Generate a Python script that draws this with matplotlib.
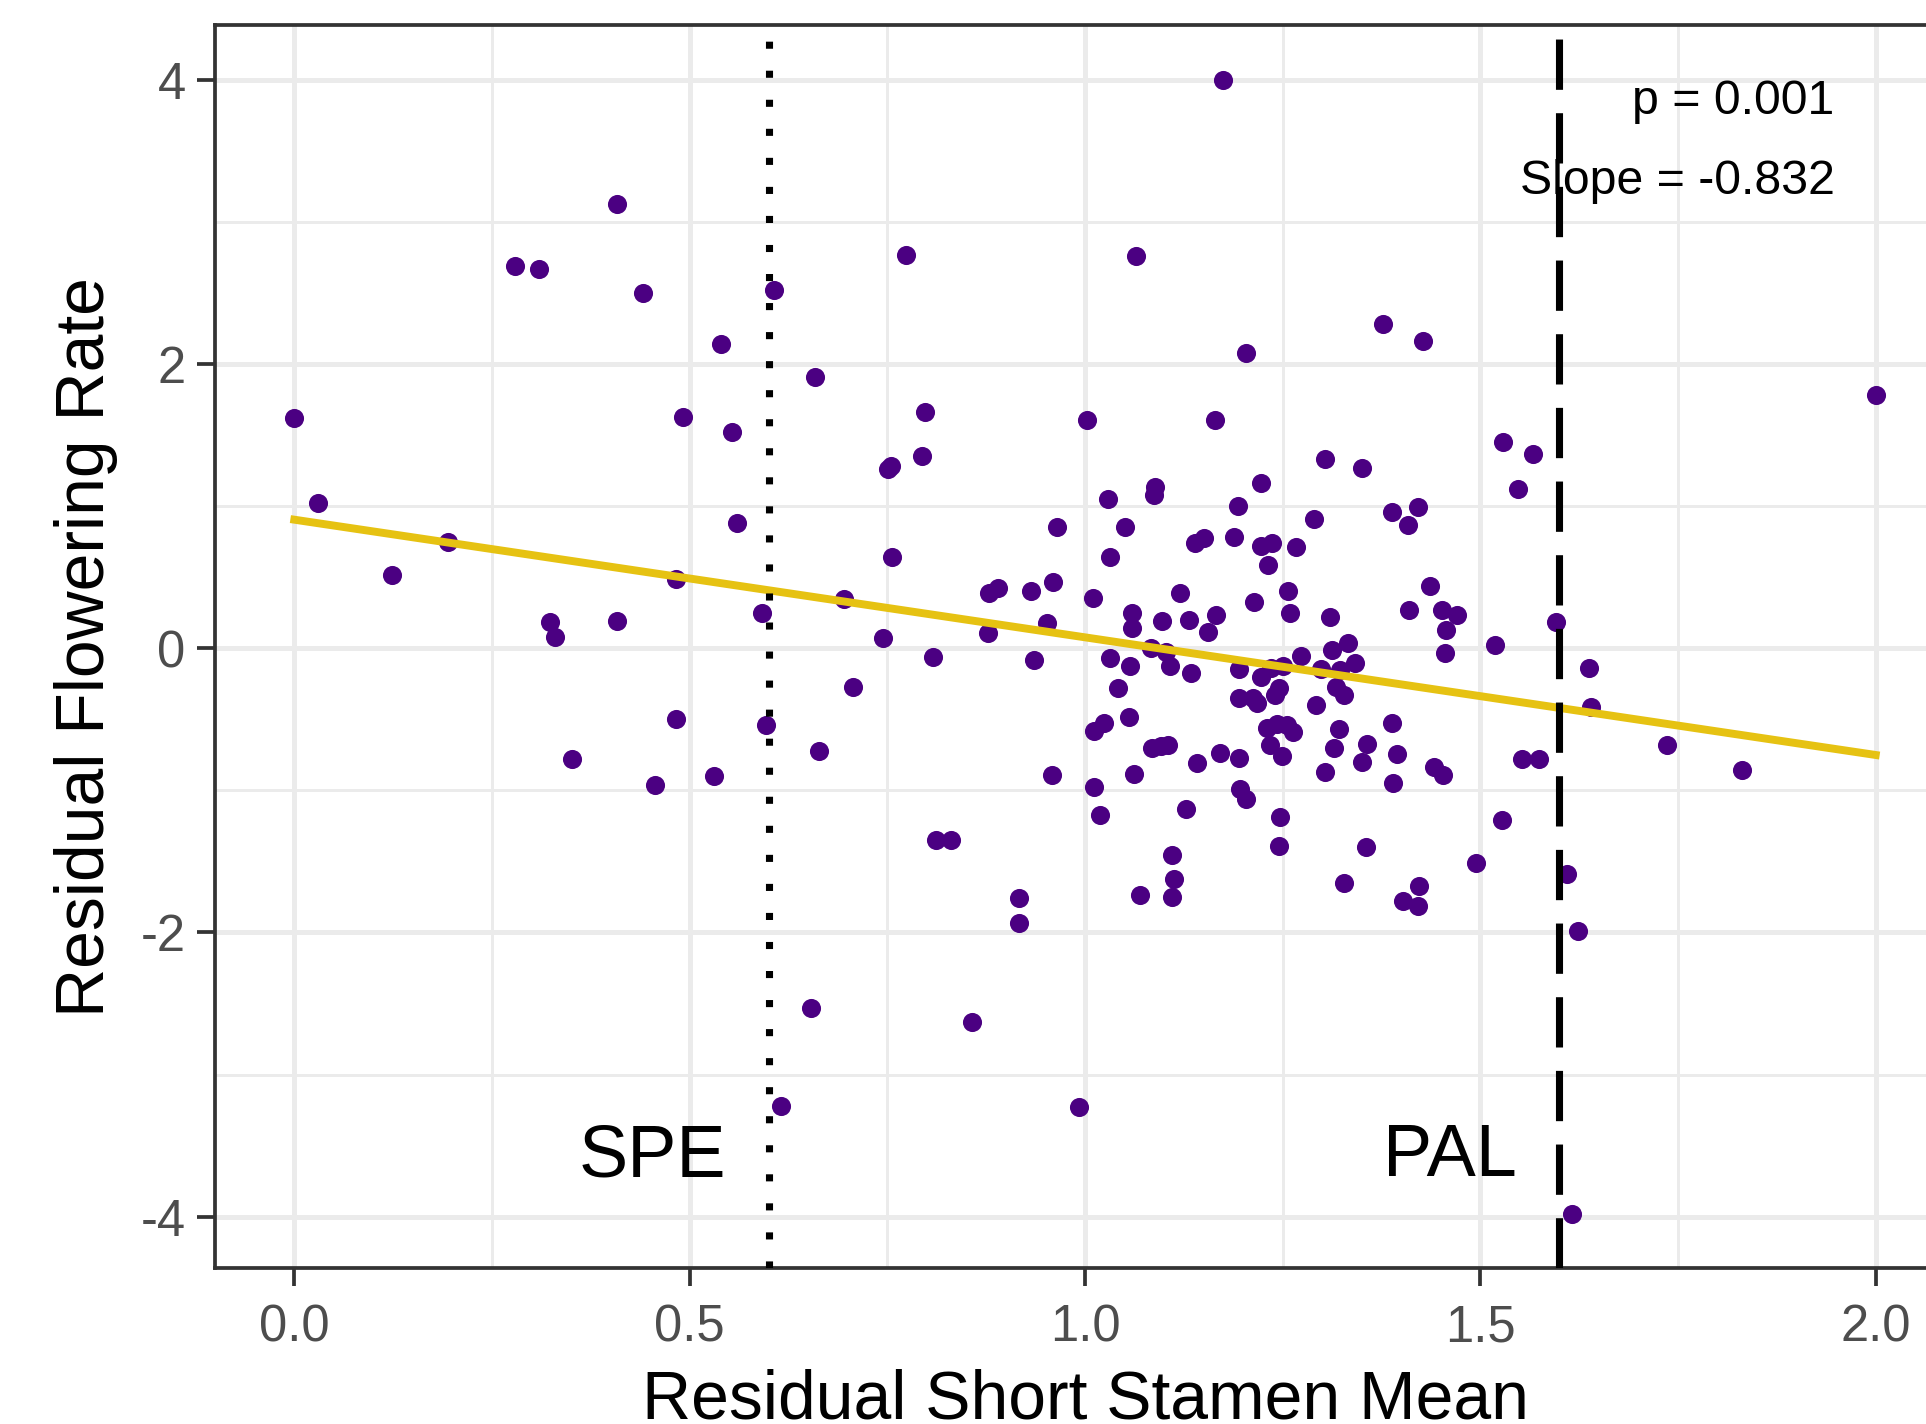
"""
Residual flowering rate vs residual short stamen mean, with SPE / PAL markers.
"""

import numpy as np
import matplotlib.pyplot as plt
from matplotlib.ticker import MultipleLocator

plt.rcParams['font.family'] = ['Liberation Sans', 'DejaVu Sans']

# residual short stamen mean (x) and residual flowering rate (y)
stamen_resid = [
    0.000, 0.030, 0.123, 0.194, 0.279, 0.309, 0.324, 0.330, 0.351, 0.408,
    0.408, 0.441, 0.456, 0.483, 0.483, 0.492, 0.540, 0.554, 0.560, 0.531,
    0.591, 0.597, 0.607, 0.616, 0.653, 0.658, 0.664, 0.695, 0.706, 0.745,
    0.751, 0.755, 0.756, 0.773, 0.794, 0.798, 0.808, 0.812, 0.831, 0.857,
    0.992, 1.175, 1.065, 1.203, 1.377, 1.427, 1.616, 2.000, 1.002, 1.165,
    1.529, 1.566, 1.548, 1.518, 1.596, 1.637, 1.640, 1.553, 1.574, 1.528,
    1.610, 1.624, 1.736, 1.831, 1.494,
    0.964, 1.029, 1.089, 1.087, 1.051, 1.032, 1.139, 1.151, 0.879, 0.890,
    0.932, 0.959, 1.010, 1.120, 1.060, 1.059, 1.097, 1.131, 1.166, 1.155,
    0.952, 0.877, 0.936, 1.032, 1.057, 1.084, 1.103, 1.108, 1.134, 1.042,
    1.012, 1.024, 1.056, 1.085, 1.096, 1.105, 1.142, 0.958, 1.062, 1.011,
    1.019, 1.128, 1.110, 1.112, 1.110, 1.069, 0.916, 0.916,
    1.303, 1.350, 1.223, 1.193, 1.290, 1.388, 1.421, 1.409, 1.188, 1.223,
    1.237, 1.267, 1.231, 1.257, 1.214, 1.259, 1.310, 1.436, 1.410, 1.451,
    1.471, 1.456, 1.455, 1.332, 1.313, 1.342, 1.273, 1.251, 1.235, 1.223,
    1.195, 1.298, 1.322, 1.317, 1.328, 1.245, 1.240, 1.195, 1.212, 1.218,
    1.292,
    1.388, 1.321, 1.230, 1.243, 1.256, 1.263, 1.234, 1.249, 1.171, 1.195,
    1.315, 1.357, 1.350, 1.394, 1.303, 1.390, 1.442, 1.453, 1.196, 1.203,
    1.247, 1.245, 1.356, 1.327, 1.423, 1.402, 1.421,
]
flowering_resid = [
    1.62, 1.02, 0.515, 0.75, 2.69, 2.67, 0.186, 0.08, -0.78, 3.13,
    0.195, 2.50, -0.96, 0.49, -0.50, 1.63, 2.14, 1.52, 0.88, -0.90,
    0.245, -0.54, 2.52, -3.22, -2.53, 1.91, -0.72, 0.35, -0.27, 0.07,
    1.26, 1.28, 0.64, 2.77, 1.35, 1.66, -0.06, -1.35, -1.35, -2.63,
    -3.23, 4.00, 2.76, 2.08, 2.28, 2.16, -3.98, 1.78, 1.61, 1.61,
    1.45, 1.37, 1.12, 0.02, 0.185, -0.14, -0.41, -0.78, -0.78, -1.21,
    -1.59, -1.99, -0.68, -0.86, -1.51,
    0.856, 1.051, 1.137, 1.079, 0.856, 0.645, 0.743, 0.774, 0.391, 0.422,
    0.403, 0.469, 0.352, 0.387, 0.251, 0.145, 0.192, 0.199, 0.234, 0.117,
    0.180, 0.110, -0.082, -0.066, -0.122, 0.004, -0.024, -0.125, -0.172, -0.277,
    -0.580, -0.528, -0.486, -0.704, -0.688, -0.681, -0.805, -0.892, -0.885, -0.974,
    -1.173, -1.133, -1.455, -1.624, -1.753, -1.736, -1.755, -1.931,
    1.332, 1.267, 1.166, 1.001, 0.910, 0.962, 0.992, 0.868, 0.781, 0.720,
    0.739, 0.711, 0.586, 0.405, 0.324, 0.246, 0.222, 0.441, 0.270, 0.270,
    0.234, 0.129, -0.035, 0.035, -0.012, -0.106, -0.052, -0.122, -0.136, -0.200,
    -0.148, -0.148, -0.153, -0.274, -0.329, -0.282, -0.329, -0.347, -0.347, -0.383,
    -0.399,
    -0.523, -0.570, -0.563, -0.533, -0.540, -0.591, -0.681, -0.758, -0.735, -0.770,
    -0.704, -0.676, -0.802, -0.744, -0.868, -0.946, -0.833, -0.892, -0.993, -1.061,
    -1.185, -1.389, -1.396, -1.649, -1.670, -1.776, -1.813,
]

# fitted line and reference positions
fit_intercept = 0.905
fit_slope = -0.828
spe_x = 0.6
pal_x = 1.6
p_text = "p = 0.001"
slope_text = "Slope = -0.832"

x = np.array(stamen_resid)
y = np.array(flowering_resid)

fig = plt.figure(figsize=(19.27 / 3, 14.24 / 3), dpi=300)
ax = fig.add_axes([0.1117, 0.1092, 0.9027, 0.8735])

ax.scatter(x, y, s=21, color='#4B0082', linewidths=0, zorder=3)

fit_x = np.array([x.min(), x.max()])
ax.plot(fit_x, fit_intercept + fit_slope * fit_x, color='#E6C212', lw=1.9, zorder=4)

ax.axvline(spe_x, color='black', lw=1.7, linestyle=(0, (1, 3.1)),
           dash_capstyle='butt', zorder=5)
ax.axvline(pal_x, color='black', lw=1.7, linestyle=(0, (7.1, 3.3)),
           dash_capstyle='butt', zorder=5)

ax.text(0.453, -3.58, "SPE", fontsize=17.7, ha='center', va='center')
ax.text(1.462, -3.58, "PAL", fontsize=17.7, ha='center', va='center')
ax.text(1.948, 3.845, p_text, fontsize=11.6, ha='right', va='center')
ax.text(1.948, 3.285, slope_text, fontsize=11.6, ha='right', va='center')

ax.set_xlim(-0.1, 2.1)
ax.set_ylim(-4.365, 4.389)
ax.xaxis.set_major_locator(MultipleLocator(0.5))
ax.xaxis.set_minor_locator(MultipleLocator(0.25))
ax.yaxis.set_major_locator(MultipleLocator(2))
ax.yaxis.set_minor_locator(MultipleLocator(1))
ax.xaxis.set_major_formatter(lambda v, pos: f"{v:.1f}")
ax.yaxis.set_major_formatter(lambda v, pos: f"{v:.0f}")

ax.grid(which='major', color='#EBEBEB', lw=1.2, zorder=0)
ax.grid(which='minor', color='#EBEBEB', lw=0.7, zorder=0)
ax.set_axisbelow(True)

for s in ax.spines.values():
    s.set_color('#333333')
    s.set_linewidth(0.9)
ax.tick_params(which='major', length=4.3, width=0.9, color='#333333',
               labelcolor='#4D4D4D', labelsize=12.2, pad=2.8)
ax.tick_params(axis='x', which='major', pad=4.0)
ax.tick_params(which='minor', length=0)

ax.set_xlabel("Residual Short Stamen Mean", fontsize=16.3, labelpad=4)
ax.set_ylabel("Residual Flowering Rate", fontsize=16.3, labelpad=5.5)

fig.savefig("out.png", dpi=300)
